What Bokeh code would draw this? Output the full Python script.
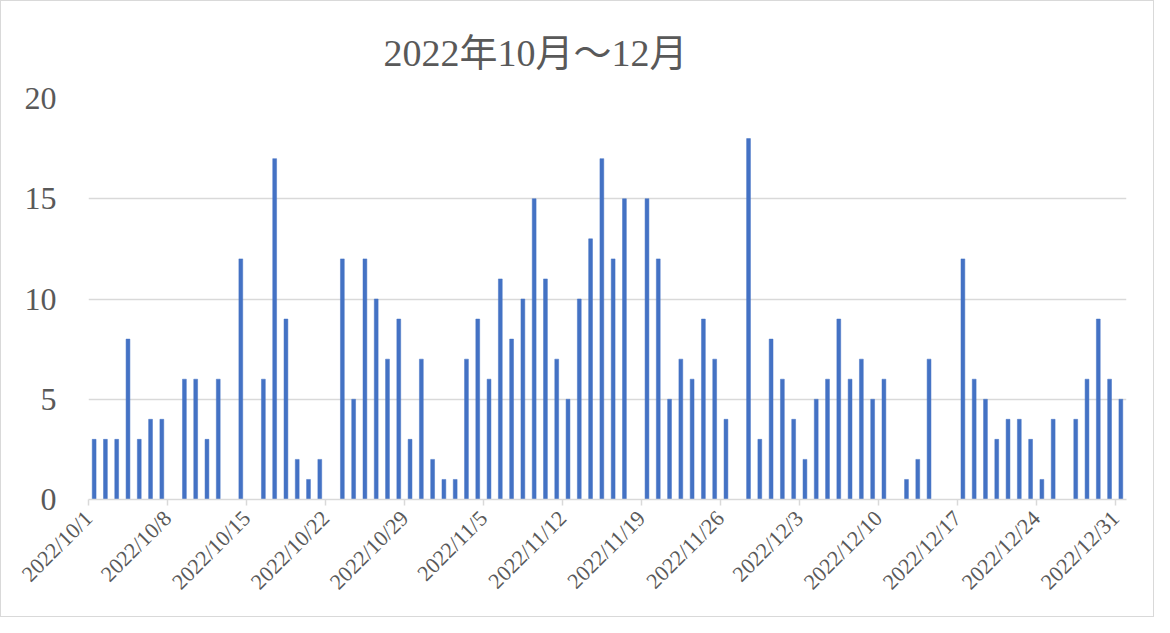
import math
import pandas as pd
from bokeh.plotting import figure
from bokeh.models import FixedTicker, Range1d, ColumnDataSource
from bokeh.embed import file_html
from bokeh.resources import INLINE

title_text = "2022年10月～12月"
first_day = "2022-10-01"
last_day = "2022-12-31"
counts = [3, 3, 3, 8, 3, 4, 4, 0, 6, 6, 3, 6, 0, 12, 0, 6, 17, 9, 2, 1, 2, 0, 12, 5, 12, 10, 7, 9, 3, 7, 2,
          1, 1, 7, 9, 6, 11, 8, 10, 15, 11, 7, 5, 10, 13, 17, 12, 15, 0, 15, 12, 5, 7, 6, 9, 7, 4, 0, 18, 3, 8,
          6, 4, 2, 5, 6, 9, 6, 7, 5, 6, 0, 1, 2, 7, 0, 0, 12, 6, 5, 3, 4, 4, 3, 1, 4, 0, 4, 6, 9, 6, 5]
tick_labels = ["2022/10/1", "2022/10/8", "2022/10/15", "2022/10/22", "2022/10/29", "2022/11/5",
               "2022/11/12", "2022/11/19", "2022/11/26", "2022/12/3", "2022/12/10", "2022/12/17",
               "2022/12/24", "2022/12/31"]
y_ticks = [0, 5, 10, 15, 20]

days = pd.date_range(first_day, last_day, freq="D")
DAY = pd.Timedelta(days=1)
src = ColumnDataSource(dict(x=days + DAY / 2, top=counts))

tick_dates = pd.to_datetime(tick_labels, format="%Y/%m/%d")
tick_ms = [float(d.value // 10**6) for d in tick_dates]

p = figure(width=1154, height=617, x_axis_type="datetime", output_backend="svg",
           toolbar_location=None,
           x_range=Range1d(days[0], days[-1] + DAY),
           y_range=Range1d(0, 20),
           min_border_left=87, min_border_right=29, min_border_top=97, min_border_bottom=119)

p.vbar(x="x", top="top", width=0.34 * 86400000, source=src,
       fill_color="#4472C4", line_color="#4472C4", line_width=0.5)

font = "Liberation Serif, Noto Sans CJK JP"
grey = "#595959"

p.title.text = title_text
p.title.align = "left"
p.title.offset = 295
p.title.standoff = 50
p.title.text_font = font
p.title.text_font_size = "38px"
p.title.text_font_style = "normal"
p.title.text_color = grey

p.outline_line_color = None
p.background_fill_color = "white"
p.border_fill_color = "white"
p.styles = {"border": "1px solid #d9d9d9"}

p.xgrid.visible = False
p.ygrid.grid_line_color = "#d9d9d9"
p.ygrid.grid_line_width = 1.5
p.ygrid.ticker = FixedTicker(ticks=y_ticks)

p.yaxis.ticker = FixedTicker(ticks=y_ticks)
p.yaxis.axis_line_color = None
p.yaxis.major_tick_line_color = None
p.yaxis.minor_tick_line_color = None
p.yaxis.major_tick_out = 0
p.yaxis.major_tick_in = 0
p.yaxis.major_label_standoff = 32
p.yaxis.major_label_text_font = font
p.yaxis.major_label_text_font_size = "32px"
p.yaxis.major_label_text_color = grey

p.xaxis.ticker = FixedTicker(ticks=tick_ms)
p.xaxis.major_label_overrides = {ms: lab for ms, lab in zip(tick_ms, tick_labels)}
p.xaxis.axis_line_color = "#d9d9d9"
p.xaxis.axis_line_width = 1.5
p.xaxis.major_tick_line_color = "#d9d9d9"
p.xaxis.major_tick_line_width = 1.5
p.xaxis.major_tick_out = 6
p.xaxis.major_tick_in = 0
p.xaxis.minor_tick_line_color = None
p.xaxis.major_label_orientation = math.pi / 4
p.xaxis.major_label_standoff = 9
p.xaxis.major_label_text_font = font
p.xaxis.major_label_text_font_size = "22px"
p.xaxis.major_label_text_color = grey

open("out.html", "w").write(file_html(p, INLINE))
